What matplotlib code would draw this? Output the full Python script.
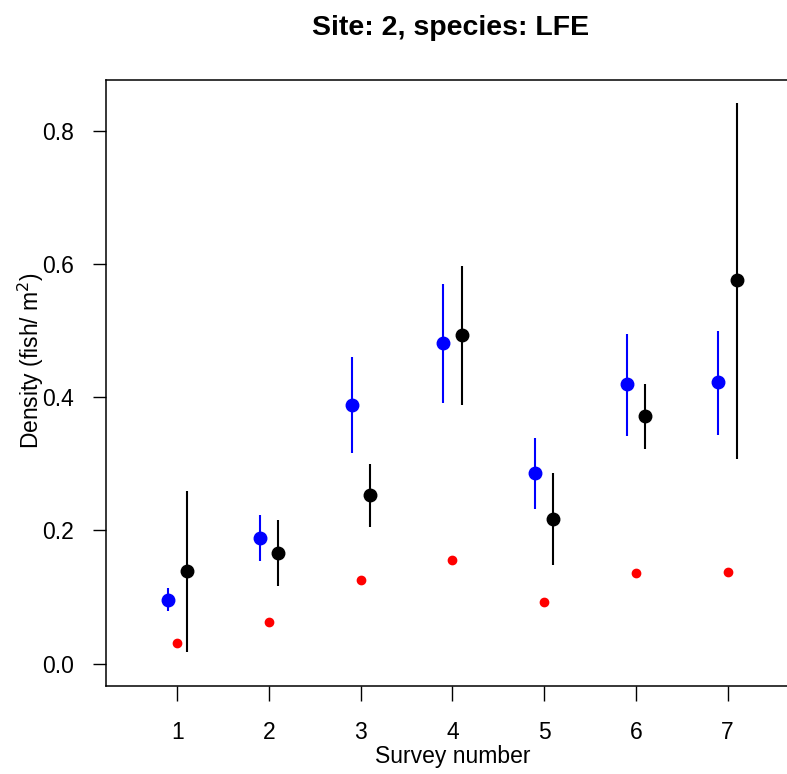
import numpy as np
import matplotlib.pyplot as plt

plt.rcParams['font.family'] = ['Liberation Sans', 'DejaVu Sans']

surveys = np.array([1, 2, 3, 4, 5, 6, 7])

# blue estimate with interval
blue_mid = np.array([0.096, 0.188, 0.389, 0.482, 0.287, 0.420, 0.423])
blue_lo = np.array([0.079, 0.154, 0.316, 0.391, 0.232, 0.342, 0.344])
blue_hi = np.array([0.114, 0.224, 0.460, 0.570, 0.339, 0.495, 0.500])

# black estimate with interval
black_mid = np.array([0.139, 0.166, 0.253, 0.494, 0.218, 0.372, 0.576])
black_lo = np.array([0.018, 0.116, 0.205, 0.389, 0.148, 0.322, 0.307])
black_hi = np.array([0.259, 0.216, 0.300, 0.597, 0.286, 0.420, 0.842])

# red points
red_vals = np.array([0.031, 0.062, 0.126, 0.156, 0.093, 0.136, 0.137])

fig = plt.figure(figsize=(7.87, 7.74), dpi=100)
ax = fig.add_axes([106 / 787, 1 - 686 / 774, (799 - 106) / 787, (686 - 80) / 774])

ax.vlines(surveys - 0.1, blue_lo, blue_hi, color='blue', lw=1.5)
ax.plot(surveys - 0.1, blue_mid, 'o', color='blue', ms=9, zorder=3)
ax.vlines(surveys + 0.1, black_lo, black_hi, color='black', lw=1.5)
ax.plot(surveys + 0.1, black_mid, 'o', color='black', ms=9, zorder=3)
ax.plot(surveys, red_vals, 'o', color='red', ms=6, zorder=3)

ax.set_xlim(0.22, 7.78)
ax.set_ylim(-0.0337, 0.877)
ax.set_xticks(surveys)
ax.set_yticks([0.0, 0.2, 0.4, 0.6, 0.8])
ax.set_yticklabels(['0.0', '0.2', '0.4', '0.6', '0.8'])
ax.tick_params(axis='x', labelsize=16.5, length=11, width=1, pad=14)
ax.tick_params(axis='y', labelsize=16.5, length=9.5, width=1, pad=13.5)
for s in ax.spines.values():
    s.set_linewidth(1.1)

ax.set_xlabel('Survey number', fontsize=16.5, labelpad=1)
ax.set_ylabel('Density (fish/ m$^2$)', fontsize=16.5)
ax.yaxis.set_label_coords(-0.087, 0.537)
fig.text(451 / 787, 1 - 28 / 774, 'Site: 2, species: LFE', fontsize=20.5,
         fontweight='bold', ha='center', va='center')

fig.savefig('out.png', dpi=100)
